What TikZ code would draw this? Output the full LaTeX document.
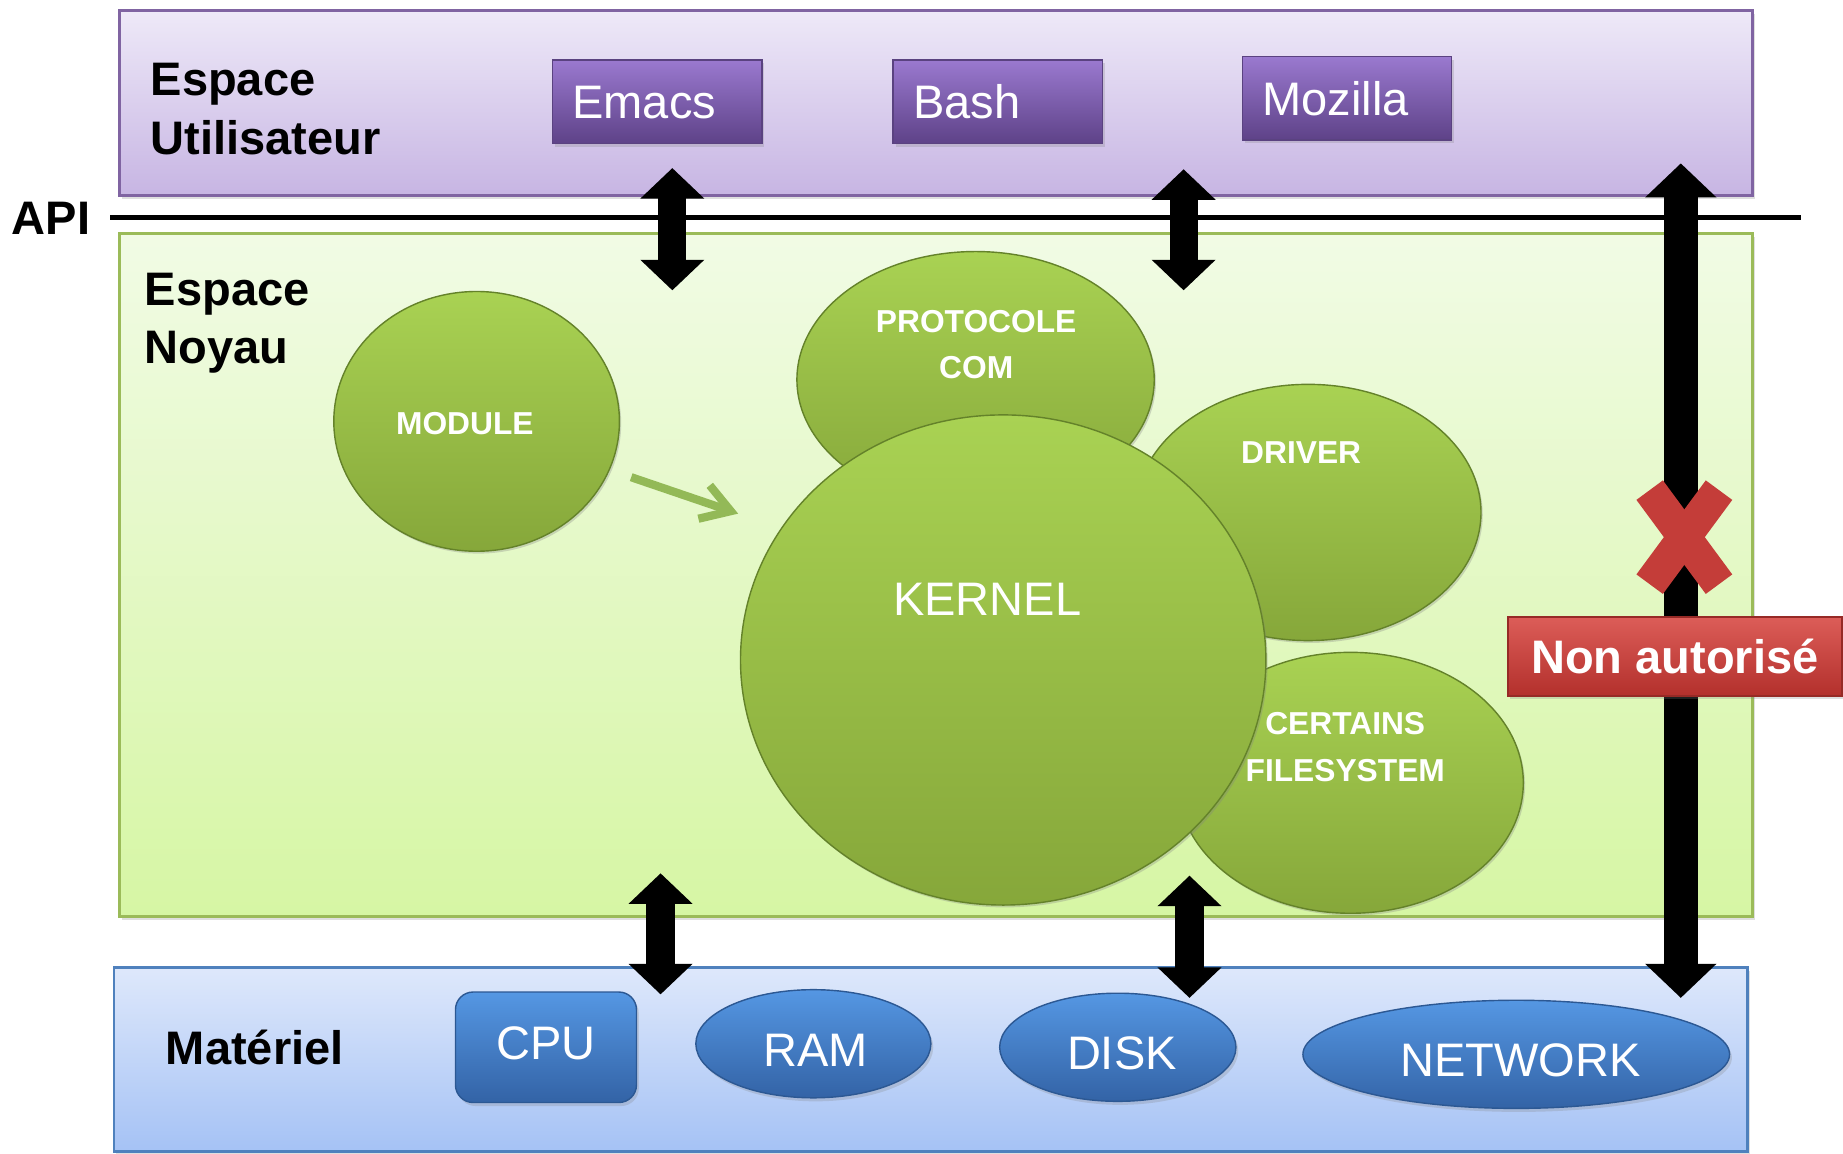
\documentclass[tikz,border=0pt]{standalone}
\usepackage{fontspec}
\setmainfont{Liberation Sans}
\usetikzlibrary{arrows.meta,shadows,shapes.geometric}
\definecolor{usrtop}{HTML}{EEE9F8}
\definecolor{usrbot}{HTML}{C7B5E3}
\definecolor{usrdraw}{HTML}{8064A2}
\definecolor{btntop}{HTML}{9A79CF}
\definecolor{btnmid}{HTML}{7A5AA8}
\definecolor{btnbot}{HTML}{5E4288}
\definecolor{btndraw}{HTML}{5A4280}
\definecolor{kertop}{HTML}{F1FBE5}
\definecolor{kerbot}{HTML}{D6F6A4}
\definecolor{kerdraw}{HTML}{9BBB59}
\definecolor{grtop}{HTML}{A9D253}
\definecolor{grbot}{HTML}{86A73A}
\definecolor{grdraw}{HTML}{64822A}
\definecolor{grarrow}{HTML}{93B957}
\definecolor{hwtop}{HTML}{DEE8FB}
\definecolor{hwbot}{HTML}{A5C2F5}
\definecolor{hwdraw}{HTML}{4F81BD}
\definecolor{bltop}{HTML}{5597E3}
\definecolor{blmid}{HTML}{4079C4}
\definecolor{blbot}{HTML}{3363A6}
\definecolor{bldraw}{HTML}{2C5893}
\definecolor{rdtop}{HTML}{DC5D58}
\definecolor{rdbot}{HTML}{B3302C}
\definecolor{rddraw}{HTML}{962A26}
\definecolor{xred}{HTML}{C43D39}
\newcommand\mybig{\fontsize{40}{49.5}\selectfont}
\newcommand\mysmall{\fontsize{27}{39.5}\selectfont}
\begin{document}
\begin{tikzpicture}[x=1pt,y=-1pt,
  softshadow/.style={drop shadow={shadow xshift=2pt,shadow yshift=-3pt,opacity=0.25}},
  layer/.style={rectangle, line width=2.5pt, inner sep=0pt, softshadow},
  userlayer/.style={layer, draw=usrdraw, top color=usrtop, bottom color=usrbot},
  kernlayer/.style={layer, draw=kerdraw, top color=kertop, bottom color=kerbot},
  hwlayer/.style={layer, draw=hwdraw, top color=hwtop, bottom color=hwbot},
  title/.style={font=\mybig\bfseries, text=black, align=left, inner sep=0pt},
  app/.style={rectangle, draw=btndraw, line width=1.5pt, top color=btntop, middle color=btnmid, bottom color=btnbot,
    minimum width=178pt, minimum height=71pt, text width=144pt, inner xsep=17pt, inner ysep=0pt,
    align=left, font=\mybig, text=white, text height=29pt, text depth=0pt, softshadow},
  blob/.style={ellipse, draw=grdraw, line width=1.2pt, top color=grtop, bottom color=grbot,
    inner sep=0pt, drop shadow={shadow xshift=1.5pt,shadow yshift=-2pt,opacity=0.3}},
  blobtext/.style={font=\mysmall\bfseries, text=white, align=center, inner sep=0pt},
  biglbl/.style={font=\mybig, text=white, inner sep=0pt},
  dev/.style={ellipse, draw=bldraw, line width=1.2pt, top color=bltop, middle color=blmid, bottom color=blbot,
    inner sep=0pt, minimum height=92pt, font=\mybig, text=white, text height=38pt, text depth=0pt, softshadow},
  cpubox/.style={rectangle, rounded corners=15pt, draw=bldraw, line width=1.2pt, top color=bltop,
    middle color=blmid, bottom color=blbot, minimum width=154pt, minimum height=94pt, font=\mybig, text=white,
    text height=28.6pt, text depth=8pt, inner sep=0pt, softshadow},
  twoway/.style={line width=24pt, {Triangle[width=53pt,length=26pt]}-{Triangle[width=53pt,length=26pt]}},
  longway/.style={line width=29pt, {Triangle[width=59pt,length=29pt]}-{Triangle[width=59pt,length=29pt]}},
  denybox/.style={rectangle, draw=rddraw, line width=1.5pt, top color=rdtop, bottom color=rdbot,
    minimum width=284pt, minimum height=67pt, font=\mybig\bfseries, text=white,
    text height=28.6pt, text depth=0pt, inner sep=0pt, softshadow}
]
\useasboundingbox (0,0) rectangle (1568,981);
% layers
\node[userlayer, minimum width=1389pt, minimum height=157pt] (user) at (796.5,87.5) {};
\node[kernlayer, minimum width=1389pt, minimum height=581pt] (kern) at (796.5,489.5) {};
\node[hwlayer, minimum width=1390pt, minimum height=157pt] (hw) at (792,901.5) {};
% API line
\coordinate (apiL) at (94,185);
\coordinate (apiR) at (1532,185);
\draw[line width=5pt] (apiL) -- (apiR);
% titles
\node[title, anchor=west] (usrttl) at (128,92.8) {Espace\\Utilisateur};
\node[title, anchor=west, text height=28.6pt, text depth=0pt] (apittl) at (10,185) {API};
\node[title, anchor=west, text depth=0pt] (kerttl) at (123,270.5) {Espace\\Noyau};
\node[title, anchor=west, text height=28.6pt, text depth=0pt] (hwttl) at (141,891) {Matériel};
% applications
\node[app] (emacs) at (559,86.5) {Emacs};
\node[app] (bash) at (849,86.5) {Bash};
\node[app] (mozilla) at (1146,83.5) {Mozilla};
% kernel parts
\node[blob, minimum width=304pt, minimum height=218pt] (proto) at (830,323) {};
\node[blob, minimum width=294pt, minimum height=218pt] (driver) at (1113,436) {};
\node[blob, minimum width=294pt, minimum height=222pt] (fs) at (1149,666) {};
\node[blob, minimum width=447pt, minimum height=417pt] (kernel) at (853.5,561.5) {};
\node[blob, minimum width=243pt, minimum height=221pt] (module) at (405.5,358.5) {};
\node[blobtext] (protol) at (830.5,293.3) {PROTOCOLE\\COM};
\node[blobtext] (driverl) at (1107,385) {DRIVER};
\node[blobtext] (fsl) at (1144.5,635.5) {CERTAINS\\FILESYSTEM};
\node[biglbl, text height=28.6pt, text depth=0pt] (kernell) at (840,509) {KERNEL};
\node[blobtext] (modulel) at (395.5,360) {MODULE};
\coordinate (ga1) at (537,406);
\coordinate (ga2) at (628,437);
\draw[line width=7pt, grarrow, -{Straight Barb[length=24pt,width=30pt]}] (ga1) -- (ga2);
% hardware
\node[cpubox] (cpu) at (464.5,891) {CPU};
\node[dev, minimum width=200pt] (ram) at (692,888) {\hspace*{4pt}RAM};
\node[dev, minimum width=201pt] (disk) at (951,891) {\hspace*{7pt}DISK};
\node[dev, minimum width=363pt] (net) at (1290,897) {\hspace*{7pt}NETWORK};
% arrows
\coordinate (a1t) at (572,143); \coordinate (a1b) at (572,247);
\coordinate (a2t) at (1007,144); \coordinate (a2b) at (1007,247);
\coordinate (a3t) at (562,743); \coordinate (a3b) at (562,846);
\coordinate (a4t) at (1012,745); \coordinate (a4b) at (1012,849);
\coordinate (a5t) at (1430,139); \coordinate (a5b) at (1430,849);
\draw[twoway] (a1t) -- (a1b);
\draw[twoway] (a2t) -- (a2b);
\draw[twoway] (a3t) -- (a3b);
\draw[twoway] (a4t) -- (a4b);
\draw[longway] (a5t) -- (a5b);
% forbidden mark
\coordinate (xc) at (1433,457);
\draw[xred, line width=28pt] (xc) ++(-29.5,40) -- ++(59,-80);
\draw[xred, line width=28pt] (xc) ++(-29.5,-40) -- ++(59,80);
\node[denybox] (deny) at (1425,558.5) {Non autorisé};
\end{tikzpicture}
\end{document}
